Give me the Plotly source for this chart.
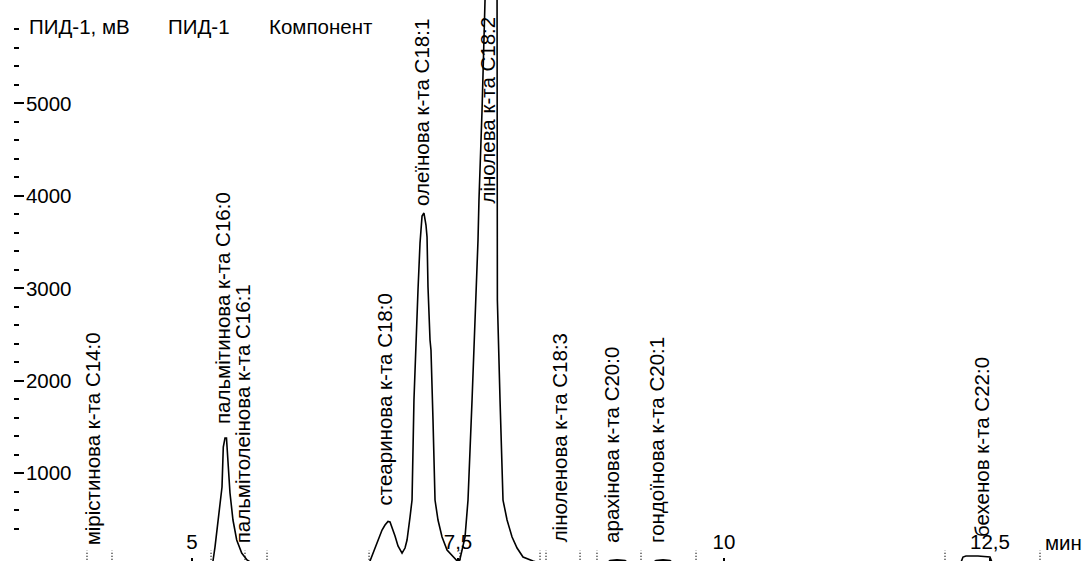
import plotly.graph_objects as go

# ---- data ----
trace_time = [3.33, 5.15, 5.188, 5.197, 5.216, 5.244, 5.263, 5.282, 5.294, 5.310, 5.324, 5.338,
              5.357, 5.385, 5.420, 5.467, 5.517, 5.592, 6.635, 6.673, 6.711, 6.748, 6.786,
              6.814, 6.842, 6.861, 6.880, 6.908, 6.936, 6.974, 7.002, 7.021, 7.049, 7.068,
              7.086, 7.105, 7.124, 7.143, 7.162, 7.180, 7.199, 7.209, 7.218, 7.237, 7.246,
              7.265, 7.284, 7.312, 7.350, 7.397, 7.472, 7.500, 7.510, 7.566, 7.594, 7.632,
              7.669, 7.688, 7.697, 7.726, 7.754, 7.782, 7.810, 7.838, 7.867, 7.867, 7.870,
              7.895, 7.923, 7.961, 8.008, 8.055, 8.111, 8.205, 8.318, 8.880, 8.929, 8.994,
              9.070, 9.117, 9.305, 9.361, 9.427, 9.492, 9.539, 12.218, 12.246, 12.274,
              12.387, 12.500, 12.528, 13.37]
trace_mv = [10, 10, 20, 52, 203, 495, 711, 852, 1284, 1382, 1382, 1144,
            787, 495, 279, 138, 63, 10, 10, 52, 171, 279, 387,
            441, 479, 474, 419, 322, 214, 138, 192, 279, 527, 711,
            1793, 2441, 2981, 3489, 3781, 3814, 3684, 3554, 3014, 2441, 2333,
            1576, 711, 495, 311, 171, 84, 52, 30, 311, 711, 1793,
            2874, 3522, 3955, 4927, 6117, 6657, 6873, 6657, 6117, 5035, 2874,
            1793, 711, 495, 311, 192, 95, 52, 10, 10, 58, 64,
            58, 10, 10, 58, 64, 58, 10, 10, 95, 106,
            106, 95, 10, 10]

# peak start / end marks (min)
marker_times = [4.013, 4.248, 5.179, 5.498, 5.705, 6.664, 7.519, 8.271, 8.327,
                8.647, 8.806, 9.220, 9.737, 12.077, 12.970]

component_names = ["мірістинова к-та С14:0", "пальмітинова к-та С16:0",
                   "пальмітолеінова к-та С16:1", "стеаринова к-та С18:0",
                   "олеїнова к-та С18:1", "лінолева к-та С18:2",
                   "ліноленова к-та С18:3", "арахінова к-та С20:0",
                   "гондоїнова к-та С20:1", "бехенов к-та С22:0"]
retention_times = [4.060, 5.281, 5.469, 6.813, 7.158, 7.781, 8.449, 8.947, 9.370, 12.424]
label_base_mv = [205, 1510, 226, 630, 3870, 3900, 237, 226, 226, 290]

x_tick_vals = [5, 7.5, 10, 12.5]
x_tick_text = ["5", "7,5", "10", "12,5"]
y_tick_vals = [1000, 2000, 3000, 4000, 5000]
y_tick_text = ["1000", "2000", "3000", "4000", "5000"]

FONT = "Liberation Sans, Arial, sans-serif"
FS = 20.5

fig = go.Figure()

mx, my = [], []
for t in marker_times:
    mx += [t, t, None]
    my += [0, 165, None]
fig.add_trace(go.Scatter(x=mx, y=my, mode="lines",
                         line=dict(color="#222222", width=1.5, dash="1px,2px"),
                         hoverinfo="skip", showlegend=False))

fig.add_trace(go.Scatter(x=trace_time, y=trace_mv, mode="lines",
                         line=dict(color="black", width=1.6),
                         showlegend=False))

annotations = []
for name, t, yb in zip(component_names, retention_times, label_base_mv):
    annotations.append(dict(x=t, y=yb, xref="x", yref="y", text=name, textangle=-90,
                            showarrow=False, xanchor="center", yanchor="bottom",
                            font=dict(family=FONT, size=FS, color="black")))

W, H, L = 1083, 561, 14
def px(x):
    return (x - L) / (W - L)
def py(y):
    return 1 - y / H

for txt, x0 in [("ПИД-1, мВ", 27), ("ПИД-1", 166), ("Компонент", 267)]:
    annotations.append(dict(x=px(x0), y=py(27), xref="paper", yref="paper", text=txt,
                            showarrow=False, xanchor="left", yanchor="middle",
                            font=dict(family=FONT, size=FS, color="black")))
annotations.append(dict(x=px(1043), y=py(542), xref="paper", yref="paper", text="мин",
                        showarrow=False, xanchor="left", yanchor="middle",
                        font=dict(family=FONT, size=FS, color="black")))

fig.update_layout(
    width=W, height=H, autosize=False,
    margin=dict(l=L, r=0, t=0, b=0),
    paper_bgcolor="white", plot_bgcolor="white",
    showlegend=False,
    annotations=annotations,
    xaxis=dict(range=[3.327, 13.374], showgrid=False, zeroline=False, showline=False,
               tickmode="array", tickvals=x_tick_vals, ticktext=x_tick_text,
               ticks="inside", ticklen=3, tickwidth=2, tickcolor="black",
               ticklabelposition="inside", ticklabelstandoff=6,
               tickfont=dict(family=FONT, size=FS, color="black")),
    yaxis=dict(range=[52, 6117], showgrid=False, zeroline=False, showline=False,
               tickmode="array", tickvals=y_tick_vals, ticktext=y_tick_text,
               ticks="inside", ticklen=10, tickwidth=2, tickcolor="black",
               ticklabelposition="inside", ticklabelstandoff=3,
               tickfont=dict(family=FONT, size=FS, color="black"),
               minor=dict(tickmode="array", tickvals=[v for v in range(200, 5801, 200)],
                          ticks="inside", ticklen=5, tickwidth=2, tickcolor="black",
                          showgrid=False)),
)

fig.write_html("out.html", config={"displayModeBar": False},
               post_script="document.body.style.margin='0px';")
